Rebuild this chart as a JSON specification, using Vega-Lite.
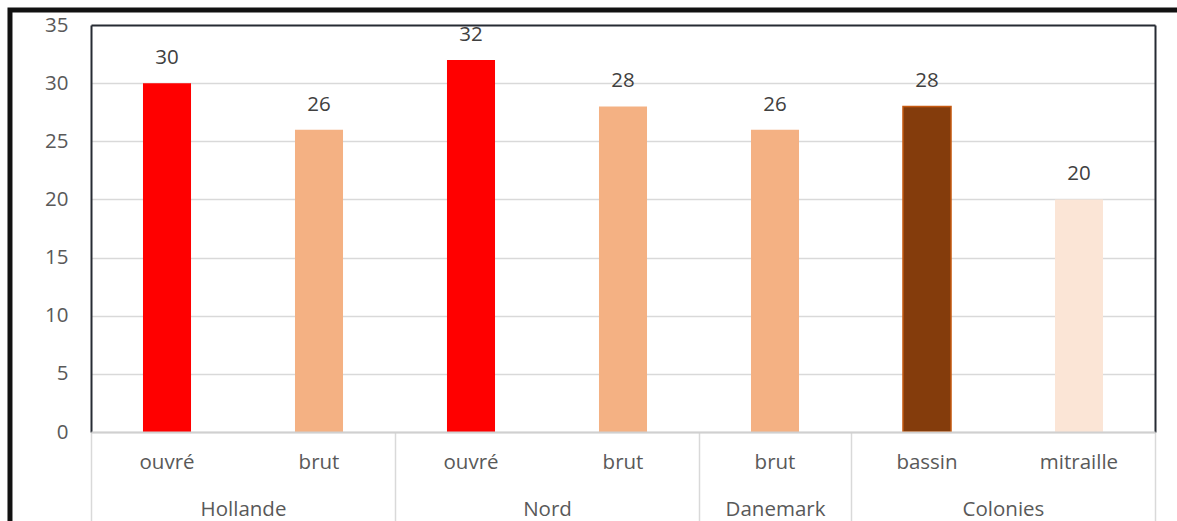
{
  "$schema": "https://vega.github.io/schema/vega-lite/v6.json",
  "width": 1064,
  "height": 407,
  "autosize": {"type": "none"},
  "padding": {"left": 91, "top": 25, "right": 22, "bottom": 89},
  "background": "white",
  "config": {
    "view": {"stroke": null},
    "font": "Open Sans",
    "axis": {"labelFont": "Open Sans", "labelColor": "#595959", "labelFontSize": 20.5}
  },
  "data": {
    "values": [
      {"id": "Hollande|ouvré", "item": "ouvré", "group": "Hollande", "value": 30},
      {"id": "Hollande|brut", "item": "brut", "group": "Hollande", "value": 26},
      {"id": "Nord|ouvré", "item": "ouvré", "group": "Nord", "value": 32},
      {"id": "Nord|brut", "item": "brut", "group": "Nord", "value": 28},
      {"id": "Danemark|brut", "item": "brut", "group": "Danemark", "value": 26},
      {"id": "Colonies|bassin", "item": "bassin", "group": "Colonies", "value": 28},
      {"id": "Colonies|mitraille", "item": "mitraille", "group": "Colonies", "value": 20}
    ]
  },
  "layer": [
    {
      "data": {"values": [{"frame": 1}]},
      "mark": {"type": "rect", "fillOpacity": 0, "stroke": "#111111", "strokeWidth": 5},
      "encoding": {
        "x": {
          "datum": -0.533,
          "type": "quantitative",
          "scale": {"domain": [0, 7], "nice": false, "zero": false},
          "axis": {
            "orient": "bottom",
            "values": [0, 1, 2, 3, 4, 4.5, 5, 6, 7],
            "labelExpr": "datum.value==1?'Hollande':datum.value==3?'Nord':datum.value==4.5?'Danemark':datum.value==6?'Colonies':''",
            "domain": false,
            "grid": false,
            "ticks": true,
            "tickSize": 89,
            "tickColor": "#d9d9d9",
            "tickWidth": 1.5,
            "tickOpacity": {"condition": {"test": "indexof([0,2,4,5,7], datum.value) >= 0", "value": 1}, "value": 0},
            "labelPadding": -12,
            "labelBaseline": "middle",
            "labelOverlap": false,
            "labelBound": false,
            "labelFlush": false,
            "title": null
          }
        },
        "x2": {"datum": 7.6},
        "y": {
          "datum": 36.29,
          "type": "quantitative",
          "scale": {"domain": [0, 35], "nice": false},
          "axis": {
            "orient": "right",
            "domain": true,
            "domainColor": "#262b33",
            "domainWidth": 2,
            "ticks": false,
            "labels": false,
            "grid": false,
            "title": null
          }
        },
        "y2": {"datum": -10}
      }
    },
    {
      "encoding": {
        "x": {
          "field": "id",
          "type": "nominal",
          "sort": null,
          "scale": {"paddingInner": 0.684, "paddingOuter": 0.342},
          "axis": {
            "orient": "bottom",
            "labelExpr": "split(datum.label, '|')[1]",
            "domain": true,
            "domainColor": "#d0d0d0",
            "domainWidth": 2,
            "zindex": 1,
            "ticks": false,
            "tickSize": 0,
            "grid": false,
            "labelAngle": 0,
            "labelPadding": 30,
            "labelBaseline": "middle",
            "title": null
          }
        },
        "y": {
          "field": "value",
          "type": "quantitative",
          "scale": {"domain": [0, 35], "nice": false},
          "axis": {
            "orient": "left",
            "values": [0, 5, 10, 15, 20, 25, 30, 35],
            "domain": true,
            "domainColor": "#262b33",
            "domainWidth": 2,
            "ticks": false,
            "tickSize": 0,
            "grid": true,
            "gridColor": {"condition": {"test": "datum.value == 35", "value": "#262b33"}, "value": "#d9d9d9"},
            "gridWidth": {"condition": {"test": "datum.value == 35", "value": 2}, "value": 1.5},
            "labelPadding": 23,
            "labelBaseline": "middle",
            "title": null
          }
        }
      },
      "layer": [
        {
          "mark": {"type": "bar", "strokeWidth": 1.5},
          "encoding": {
            "color": {
              "field": "item",
              "type": "nominal",
              "scale": {"domain": ["ouvré", "brut", "bassin", "mitraille"], "range": ["#ff0000", "#f4b183", "#843c0c", "#fbe5d6"]},
              "legend": null
            },
            "stroke": {"condition": {"test": "datum.item == 'bassin'", "value": "#c55a11"}, "value": null}
          }
        },
        {
          "mark": {"type": "text", "baseline": "middle", "dy": -25, "fontSize": 20.5, "color": "#404040", "font": "Open Sans"},
          "encoding": {"text": {"field": "value", "type": "quantitative"}}
        }
      ]
    }
  ],
  "resolve": {"scale": {"x": "independent"}, "axis": {"x": "independent", "y": "independent"}}
}
